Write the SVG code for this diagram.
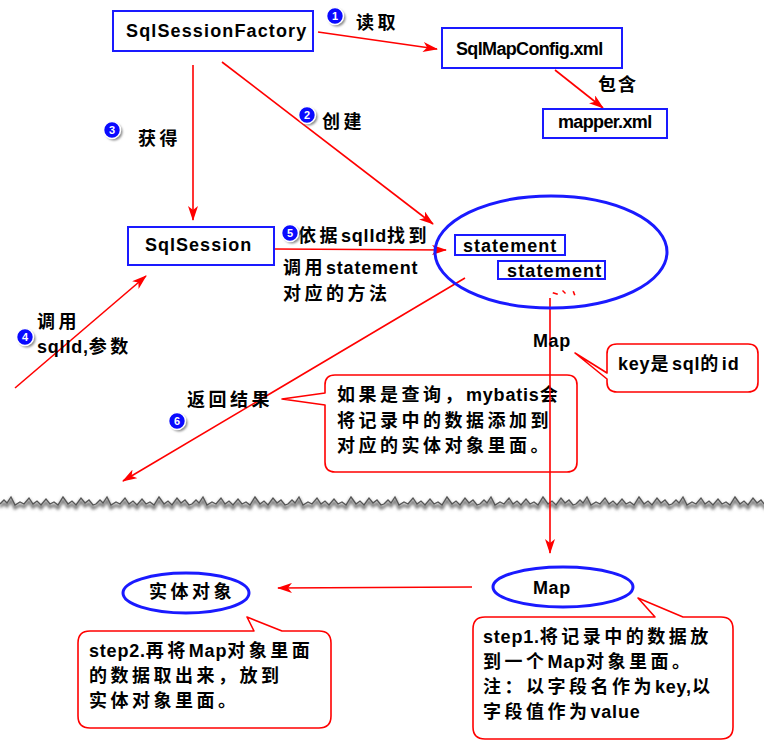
<svg xmlns="http://www.w3.org/2000/svg" xmlns:xlink="http://www.w3.org/1999/xlink" width="764" height="748" viewBox="0 0 764 748">
<style>
.t{font-family:"Liberation Sans","Noto Sans CJK SC",sans-serif;font-weight:bold;fill:#000;font-size:18px;letter-spacing:0.8px}
.c{letter-spacing:3.5px}
.box{fill:#fff;stroke:#1a1aff;stroke-width:2}
.ell{fill:none;stroke:#1a1aff;stroke-width:3}
.con{fill:none;stroke:#ff0000;stroke-width:1.6;marker-end:url(#ah)}
.call{fill:#fff;stroke:#ff0000;stroke-width:1.6;stroke-linejoin:round}
.badge{fill:#0a0aff;stroke:#fff;stroke-width:1.6}
.bsh{fill:#888;filter:url(#blur1)}
.bn{font-family:"Liberation Sans",sans-serif;font-weight:bold;font-size:11px;fill:#fff;text-anchor:middle}
</style>
<defs>
<marker id="ah" markerWidth="15" markerHeight="10" refX="14" refY="5" orient="auto" markerUnits="userSpaceOnUse">
<path d="M0,0 L15,5 L0,10 L4,5 Z" fill="#ff0000"/>
</marker>
<filter id="blur1" x="-50%" y="-50%" width="200%" height="200%"><feGaussianBlur stdDeviation="1.2"/></filter>
<filter id="blur2" x="-5%" y="-100%" width="110%" height="300%"><feGaussianBlur stdDeviation="1.6"/></filter>
<path id="tear" d="M0,504 L4,500 L7,503 L11,497 L15,505 L20,502 L24,504 L29,498 L33,504 L37,501 L41,505 L46,499 L50,504 L54,502 L58,505 L63,497 L68,504 L72,501 L76,505 L81,498 L85,503 L89,500 L93,505 L96,504"/>
</defs>

<g id="tear-edge">
<g transform="translate(0,3)" style="fill:none;stroke:#777;stroke-width:3;filter:url(#blur2)">
<use xlink:href="#tear" x="0"/><use xlink:href="#tear" x="96"/><use xlink:href="#tear" x="192"/><use xlink:href="#tear" x="288"/><use xlink:href="#tear" x="384"/><use xlink:href="#tear" x="480"/><use xlink:href="#tear" x="576"/><use xlink:href="#tear" x="672"/>
</g>
<g style="fill:none;stroke:#555;stroke-width:1.3">
<use xlink:href="#tear" x="0"/><use xlink:href="#tear" x="96"/><use xlink:href="#tear" x="192"/><use xlink:href="#tear" x="288"/><use xlink:href="#tear" x="384"/><use xlink:href="#tear" x="480"/><use xlink:href="#tear" x="576"/><use xlink:href="#tear" x="672"/>
</g>
</g>

<g id="callout-query">
<path class="call" d="M335,375 H567 Q577,375 577,385 V462 Q577,472 567,472 H335 Q325,472 325,462 V405 L282,399 L325,393 V385 Q325,375 335,375 Z"/>
<text class="t" x="337" y="401"><tspan class="c">如果是查询，</tspan>mybatis<tspan class="c">会</tspan></text>
<text class="t c" x="337" y="427">将记录中的数据添加到</text>
<text class="t c" x="337" y="452">对应的实体对象里面。</text>
</g>

<g id="callout-key">
<path class="call" d="M617,344 H748 Q758,344 758,354 V382 Q758,392 748,392 H617 Q607,392 607,382 V379 L575,353 L607,373 V354 Q607,344 617,344 Z"/>
<text class="t" x="618" y="370">key<tspan class="c">是</tspan>sql<tspan class="c">的</tspan>id</text>
</g>

<g id="callout-step2">
<path class="call" d="M90,631 H254 L247,617 L282,631 H319 Q331,631 331,643 V716 Q331,728 319,728 H90 Q78,728 78,716 V643 Q78,631 90,631 Z"/>
<text class="t" x="89" y="657">step2.<tspan class="c">再将</tspan>Map<tspan class="c">对象里面</tspan></text>
<text class="t c" x="89" y="682">的数据取出来，放到</text>
<text class="t c" x="89" y="707">实体对象里面。</text>
</g>

<g id="callout-step1">
<path class="call" d="M485,617 H655 L638,598 L683,617 H721 Q733,617 733,629 V727 Q733,739 721,739 H485 Q473,739 473,727 V629 Q473,617 485,617 Z"/>
<text class="t" x="483" y="643">step1.<tspan class="c">将记录中的数据放</tspan></text>
<text class="t" x="483" y="668"><tspan class="c">到一个</tspan>Map<tspan class="c">对象里面。</tspan></text>
<text class="t" x="483" y="693"><tspan class="c">注：以字段名作为</tspan>key,<tspan class="c">以</tspan></text>
<text class="t" x="483" y="718"><tspan class="c">字段值作为</tspan>value</text>
</g>

<g id="connectors">
<line class="con" x1="318" y1="32" x2="437" y2="49"/>
<line class="con" x1="555" y1="70" x2="603" y2="108"/>
<line class="con" x1="193" y1="65" x2="193" y2="220"/>
<line class="con" x1="222" y1="62" x2="433" y2="224"/>
<line class="con" x1="274" y1="249" x2="446" y2="250"/>
<line class="con" x1="15" y1="388" x2="146" y2="276"/>
<line class="con" x1="465" y1="278" x2="123" y2="481"/>
<line class="con" x1="550" y1="298" x2="550" y2="553"/>
<line class="con" x1="472" y1="587" x2="278" y2="588"/>
</g>

<g id="SqlSessionFactory">
<rect class="box" x="113" y="11" width="200" height="40"/>
<text class="t" font-size="20" x="126" y="37" textLength="181">SqlSessionFactory</text>
</g>

<g id="SqlMapConfig">
<rect class="box" x="442" y="28" width="180" height="40"/>
<text class="t" font-size="17" x="456" y="55" textLength="148">SqlMapConfig.xml</text>
</g>

<g id="mapper">
<rect class="box" x="543" y="109" width="124" height="29"/>
<text class="t" font-size="17" x="558" y="128" textLength="95">mapper.xml</text>
</g>

<g id="SqlSession">
<rect class="box" x="128" y="227" width="146" height="38"/>
<text class="t" font-size="20" x="145" y="251" textLength="107">SqlSession</text>
</g>

<g id="statements">
<ellipse class="ell" cx="551" cy="252" rx="116" ry="56"/>
<rect class="box" x="455" y="235" width="110" height="20"/>
<text class="t" x="463" y="252" textLength="94">statement</text>
<rect class="box" x="498" y="261" width="107" height="18"/>
<text class="t" x="507" y="277" textLength="95">statement</text>
<g fill="#ff0000">
<path d="M553,292 l5,1.5 l-0.5,1.5 l-5,-1.5 Z"/>
<path d="M563,290 l3,3 l-1,1 l-3,-3 Z"/>
<path d="M574,291 l1.5,4 l-1.5,0.5 l-1.5,-4 Z"/>
</g>
</g>

<g id="map-top">
<text class="t" font-size="19" x="533" y="347" textLength="38">Map</text>
</g>

<g id="entity">
<ellipse class="ell" cx="186" cy="593" rx="63" ry="20"/>
<text class="t c" x="149" y="598">实体对象</text>
</g>

<g id="map-bottom">
<ellipse class="ell" cx="563" cy="587" rx="70" ry="20"/>
<text class="t" font-size="20" x="533" y="594" textLength="38">Map</text>
</g>

<g id="labels">
<text class="t c" x="356" y="29">读取</text>
<text class="t" font-size="16" x="598" y="91" style="letter-spacing:2px">包含</text>
<text class="t c" x="138" y="145">获得</text>
<text class="t c" x="322" y="128">创建</text>
<text class="t" x="298" y="242"><tspan class="c">依据</tspan>sqlId<tspan class="c">找到</tspan></text>
<text class="t" x="283" y="274"><tspan class="c">调用</tspan>statement</text>
<text class="t c" x="283" y="300">对应的方法</text>
<text class="t c" x="37" y="328">调用</text>
<text class="t" x="37" y="353">sqlId,<tspan class="c">参数</tspan></text>
<text class="t c" x="187" y="406">返回结果</text>
</g>

<g id="badges">
<g id="b1"><circle class="bsh" cx="337" cy="18" r="8.5"/><circle class="badge" cx="335" cy="16" r="8.5"/><text class="bn" x="335" y="20">1</text></g>
<g id="b2"><circle class="bsh" cx="309" cy="117" r="8.5"/><circle class="badge" cx="307" cy="115" r="8.5"/><text class="bn" x="307" y="119">2</text></g>
<g id="b3"><circle class="bsh" cx="114" cy="132" r="8.5"/><circle class="badge" cx="112" cy="130" r="8.5"/><text class="bn" x="112" y="134">3</text></g>
<g id="b4"><circle class="bsh" cx="27" cy="339" r="8.5"/><circle class="badge" cx="25" cy="337" r="8.5"/><text class="bn" x="25" y="341">4</text></g>
<g id="b5"><circle class="bsh" cx="292" cy="235" r="8.5"/><circle class="badge" cx="290" cy="233" r="8.5"/><text class="bn" x="290" y="237">5</text></g>
<g id="b6"><circle class="bsh" cx="179" cy="423" r="8.5"/><circle class="badge" cx="177" cy="421" r="8.5"/><text class="bn" x="177" y="425">6</text></g>
</g>
</svg>
